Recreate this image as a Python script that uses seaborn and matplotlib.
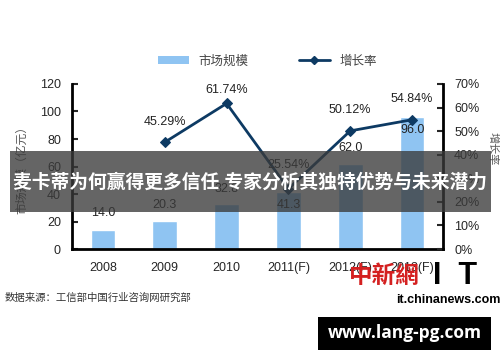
import matplotlib
matplotlib.use("Agg")
import matplotlib.pyplot as plt
import seaborn as sns
import pandas as pd
from matplotlib.patches import Rectangle, Patch
from matplotlib.lines import Line2D

# -----------------------------
# data
# -----------------------------
years = ["2008", "2009", "2010", "2011(F)", "2012(F)", "2013(F)"]
market = [14.0, 20.3, 32.8, 41.3, 62.0, 96.0]
growth_years = ["2009", "2010", "2011(F)", "2012(F)", "2013(F)"]
growth = [45.29, 61.74, 25.54, 50.12, 54.84]

BAR = "#8fc4f2"
LINE = "#0d3a63"

sns.set_style("white")
plt.rcParams["font.family"] = ["Liberation Sans", "Noto Sans CJK SC", "DejaVu Sans"]

df = pd.DataFrame({"year": years, "market": market})
gdf = pd.DataFrame({"year": growth_years, "growth": growth})
gdf["pos"] = [years.index(y) for y in growth_years]

fig = plt.figure(figsize=(5, 3.62), dpi=100)
ax = fig.add_axes([0.144, 0.312, 0.742, 0.456])

sns.barplot(data=df, x="year", y="market", color=BAR, width=0.4,
            saturation=1, ax=ax)
ax.set_ylim(0, 120)
ax.set_xlim(-0.5, 5.5)
ax.set_yticks(range(0, 121, 20))
ax.set_xlabel("")
ax.set_ylabel("")
ax.tick_params(axis="y", direction="in", length=4, width=1.5, labelsize=9, pad=8)
ax.tick_params(axis="x", length=0, labelsize=9, pad=9)
ax.set_xticks([i + 0.5 for i in range(5)], minor=True)
ax.tick_params(axis="x", which="minor", direction="in", length=4, width=1.5)
for s in ["top", "right"]:
    ax.spines[s].set_visible(False)
for s in ["left", "bottom"]:
    ax.spines[s].set_linewidth(2)
    ax.spines[s].set_color("black")

# bar value labels (some sit inside the bar to dodge the line)
bar_off = [12, 11.7, 11, -9, 11.5, -9.5]
for i, (v, o) in enumerate(zip(market, bar_off)):
    ax.text(i, v + o, f"{v:.1f}", ha="center", va="center", fontsize=9, color="#222")

ax2 = ax.twinx()
sns.lineplot(data=gdf, x="pos", y="growth", color=LINE, linewidth=2,
             marker="D", markersize=5, markeredgecolor=LINE, ax=ax2)
ax2.set_ylim(0, 70)
ax2.set_yticks(range(0, 71, 10))
ax2.set_yticklabels([f"{t}%" for t in range(0, 71, 10)])
ax2.set_xlim(-0.5, 5.5)
ax2.set_xlabel("")
ax2.set_ylabel("")
ax2.tick_params(axis="y", direction="in", length=4, width=1.5, labelsize=9, pad=8)
for s in ["top", "left", "bottom"]:
    ax2.spines[s].set_visible(False)
ax2.spines["right"].set_linewidth(2)
ax2.spines["right"].set_color("black")

g_off = [8.5, 5.7, 10, 9, 9]
for p, v, o in zip(gdf["pos"], growth, g_off):
    ax2.text(p, v + o, f"{v:.2f}%", ha="center", va="center", fontsize=9, color="#222")

# legend
handles = [Patch(facecolor=BAR, edgecolor="none"),
           Line2D([], [], color=LINE, lw=2, marker="D", markersize=4)]
fig.legend(handles, ["市场规模", "增长率"], loc="center", bbox_to_anchor=(0.535, 0.83),
           ncol=2, frameon=False, fontsize=9, handlelength=2.5, handleheight=0.6,
           columnspacing=4, labelcolor="#444")

# axis titles
fig.text(0.044, 0.54, "市场规模（亿元）", rotation=90, ha="center", va="center",
         fontsize=8.5, color="#555")
fig.text(0.985, 0.59, "增长率", rotation=-90, ha="center", va="center",
         fontsize=8, color="#555")

# source note
fig.text(0.01, 0.177, "数据来源：工信部中国行业咨询网研究部", ha="left", va="center",
         fontsize=7.5, color="#333")

# overlay banner
fig.patches.append(Rectangle((0.02, 0.414), 0.962, 0.169, transform=fig.transFigure,
                             facecolor="#3a3a3a", alpha=0.78, edgecolor="none", zorder=5))
fig.text(0.5, 0.497, "麦卡蒂为何赢得更多信任 专家分析其独特优势与未来潜力", ha="center",
         va="center", fontsize=13.5, fontweight="bold", color="white", zorder=6)

# watermarks
fig.text(0.768, 0.238, "中新網", ha="center", va="center", fontsize=17, fontweight="bold",
         color="#d42020", family=["Noto Sans CJK TC", "DejaVu Sans"], zorder=6)
fig.text(0.91, 0.238, "I  T", ha="center", va="center", fontsize=22, fontweight="heavy",
         color="black", zorder=6)
fig.text(0.896, 0.172, "it.chinanews.com", ha="center", va="center", fontsize=9,
         fontweight="bold", color="black", zorder=6)
fig.patches.append(Rectangle((0.636, 0.033), 0.346, 0.092, transform=fig.transFigure,
                             facecolor="black", edgecolor="none", zorder=5))
fig.text(0.809, 0.079, "www.lang-pg.com", ha="center", va="center", fontsize=12.5,
         fontweight="bold", color="white", family=["Open Sans", "DejaVu Sans"], zorder=6)

fig.savefig("out.png", dpi=100)
